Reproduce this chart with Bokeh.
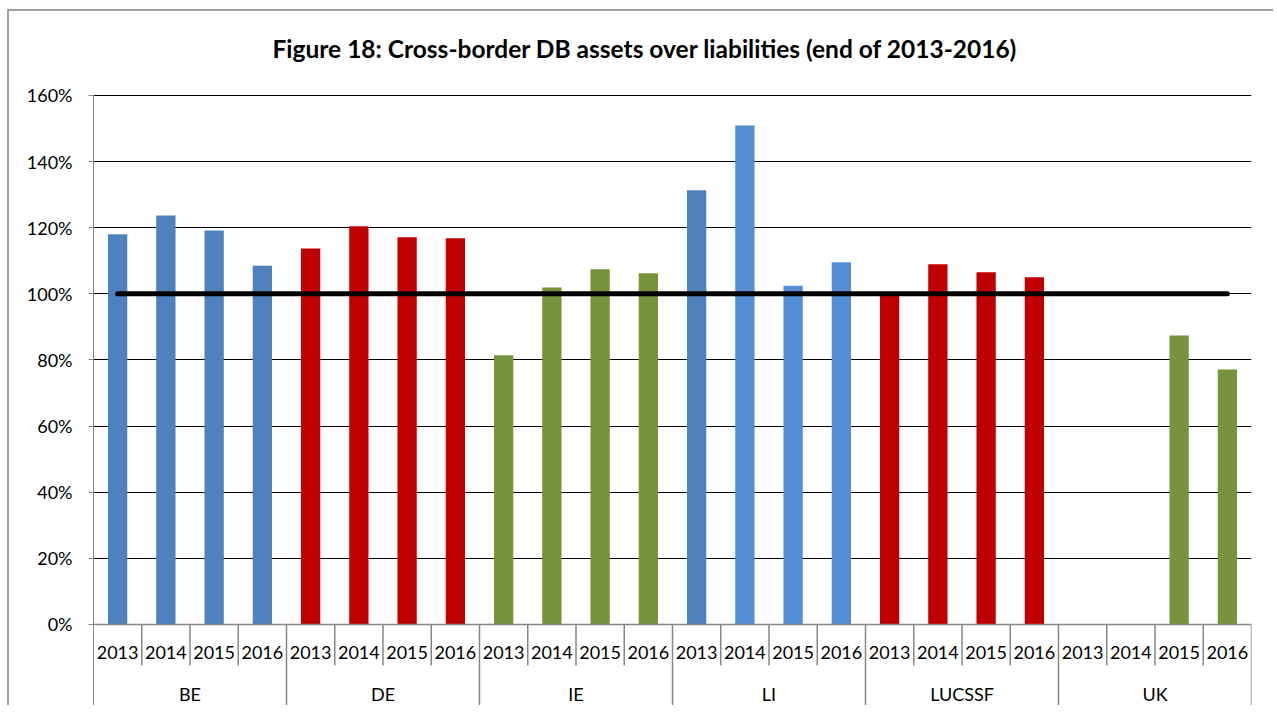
from bokeh.plotting import figure
from bokeh.models import (FactorRange, Range1d, ColumnDataSource, FixedTicker,
                          NumeralTickFormatter, CategoricalAxis)
from bokeh.embed import file_html
from bokeh.resources import INLINE

# ---------------- data ----------------
title_text = "Figure 18: Cross-border DB assets over liabilities (end of 2013-2016)"
countries = ["BE", "DE", "IE", "LI", "LUCSSF", "UK"]
years = ["2013", "2014", "2015", "2016"]
be = [1.180, 1.237, 1.191, 1.085]
de = [1.137, 1.204, 1.171, 1.168]
ie = [0.814, 1.019, 1.074, 1.062]
li = [1.313, 1.509, 1.024, 1.095]
lucssf = [0.995, 1.089, 1.065, 1.050]
uk = [None, None, 0.874, 0.771]
threshold = 1.0
y_ticks = [0.0, 0.2, 0.4, 0.6, 0.8, 1.0, 1.2, 1.4, 1.6]

# ---------------- styles ----------------
BLUE = "#4F81BD"
LBLUE = "#558ED5"
RED = "#C00000"
GREEN = "#77933C"
bar_colors = {
    "BE": [BLUE] * 4,
    "DE": [RED] * 4,
    "IE": [GREEN] * 4,
    "LI": [BLUE, LBLUE, LBLUE, LBLUE],
    "LUCSSF": [RED] * 4,
    "UK": [GREEN] * 4,
}
FONT = "Lato"
AXIS_GRAY = "#868686"

series = dict(zip(countries, [be, de, ie, li, lucssf, uk]))
factors = [(c, y) for c in countries for y in years]

xs, tops, cols = [], [], []
for c in countries:
    for i, y in enumerate(years):
        v = series[c][i]
        if v is not None:
            xs.append((c, y))
            tops.append(v)
            cols.append(bar_colors[c][i])
bar_src = ColumnDataSource(dict(x=xs, top=tops, color=cols))

Y_MIN = -0.251
Y_MAX = 1.654
Y_SEP_YEAR = -0.124

# separators between category cells (below the 0% axis)
sx, sy1 = [], []
for i, (c, y) in enumerate(factors):
    if i == 0:
        continue
    sx.append((c, y, -0.5))
    sy1.append(Y_MIN if y == years[0] else Y_SEP_YEAR)
sx.append((countries[-1], years[-1], 0.5))
sy1.append(Y_MIN)
sep_src = ColumnDataSource(dict(x=sx, y0=[0.0] * len(sx), y1=sy1))

p = figure(
    x_range=FactorRange(*factors, range_padding=0, group_padding=0,
                        factor_padding=0, subgroup_padding=0),
    y_range=Range1d(Y_MIN, Y_MAX),
    width=1266, height=696,
    output_backend="svg", toolbar_location=None,
    x_axis_location=None,
    min_border_left=84, min_border_right=24, min_border_top=66,
    min_border_bottom=0,
    title=title_text,
)
p.extra_x_ranges = {"countries": FactorRange(*countries, range_padding=0,
                                             factor_padding=0)}
p.styles = {"margin-left": "7px", "margin-top": "9px",
            "border-left": "2px solid #a0a0a0", "border-top": "2px solid #a0a0a0"}
p.outline_line_color = None
p.background_fill_color = "white"
p.border_fill_color = "white"

p.title.text_font = FONT
p.title.text_font_size = "24.5px"
p.title.text_font_style = "bold"
p.title.text_color = "black"
p.title.align = "left"
p.title.offset = 179
p.title.vertical_align = "bottom"
p.title.standoff = 30

# y axis
p.yaxis.ticker = FixedTicker(ticks=y_ticks)
p.yaxis.bounds = (Y_MIN, y_ticks[-1])
p.yaxis.formatter = NumeralTickFormatter(format="0%")
p.yaxis.axis_line_color = AXIS_GRAY
p.yaxis.major_tick_line_color = AXIS_GRAY
p.yaxis.major_tick_out = 5
p.yaxis.major_tick_in = 0
p.yaxis.minor_tick_line_color = None
p.yaxis.major_label_text_font = FONT
p.yaxis.major_label_text_font_size = "18px"
p.yaxis.major_label_text_color = "black"
p.yaxis.major_label_standoff = 16

p.ygrid.ticker = FixedTicker(ticks=y_ticks[1:])
p.ygrid.grid_line_color = "black"
p.ygrid.grid_line_width = 1.2
p.xgrid.visible = False

# bars
p.vbar(x="x", top="top", width=0.4, source=bar_src, fill_color="color",
       line_color=None)

# 100% line
line_src = ColumnDataSource(dict(x=[factors[0], factors[-1]],
                                 y=[threshold, threshold]))
p.line(x="x", y="y", source=line_src, line_width=5, line_color="black",
       line_cap="round")

# cell separators
p.segment(x0="x", y0="y0", x1="x", y1="y1", source=sep_src,
          line_color=AXIS_GRAY, line_width=1.5)

# year axis at 0%
xa = CategoricalAxis(fixed_location=0)
xa.axis_line_color = AXIS_GRAY
xa.axis_line_width = 1.5
xa.major_tick_line_color = None
xa.minor_tick_line_color = None
xa.major_tick_out = 0
xa.major_tick_in = 0
xa.major_label_text_font = FONT
xa.major_label_text_font_size = "18px"
xa.major_label_text_color = "black"
xa.major_label_standoff = 22
xa.group_text_color = None
xa.separator_line_color = None
p.add_layout(xa, "below")

# country axis
ca = CategoricalAxis(x_range_name="countries", fixed_location=Y_SEP_YEAR)
ca.axis_line_color = None
ca.major_tick_line_color = None
ca.minor_tick_line_color = None
ca.major_tick_out = 0
ca.major_tick_in = 0
ca.major_label_text_font = FONT
ca.major_label_text_font_size = "18px"
ca.major_label_text_color = "black"
ca.major_label_standoff = 17
p.add_layout(ca, "below")

open("out.html", "w").write(file_html(p, INLINE))
